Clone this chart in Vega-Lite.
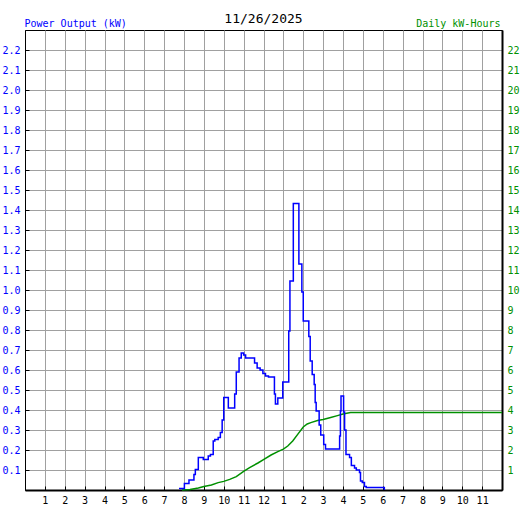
{
  "$schema": "https://vega.github.io/schema/vega-lite/v6.json",
  "width": 477,
  "height": 460,
  "autosize": "none",
  "padding": {"left": 25, "top": 30, "right": 25, "bottom": 20},
  "background": "white",
  "title": {"text": "11/26/2025", "font": "DejaVu Sans Mono", "fontSize": 13, "fontWeight": "normal", "color": "#000000", "anchor": "middle", "baseline": "alphabetic", "offset": 5, "dy": 23},
  "config": {
    "view": {"stroke": "#000000", "strokeWidth": 1},
    "axis": {"labelFont": "DejaVu Sans Mono", "labelFontSize": 10, "titleFont": "DejaVu Sans Mono", "titleFontSize": 10, "titleFontWeight": "normal", "gridColor": "#a0a0a0", "gridOpacity": 1, "gridWidth": 1, "tickColor": "#000000", "domainColor": "#000000"}
  },
  "datasets": {
    "energy": [
      {"hour": 7.9, "kwh": 0.0}, {"hour": 8.3, "kwh": 0.03}, {"hour": 8.72, "kwh": 0.1}, {"hour": 9.0, "kwh": 0.17},
      {"hour": 9.38, "kwh": 0.25}, {"hour": 9.72, "kwh": 0.37}, {"hour": 10.0, "kwh": 0.43}, {"hour": 10.3, "kwh": 0.53},
      {"hour": 10.63, "kwh": 0.67}, {"hour": 11.0, "kwh": 0.93}, {"hour": 11.3, "kwh": 1.12}, {"hour": 11.72, "kwh": 1.35},
      {"hour": 12.0, "kwh": 1.52}, {"hour": 12.38, "kwh": 1.75}, {"hour": 12.72, "kwh": 1.92}, {"hour": 13.0, "kwh": 2.04},
      {"hour": 13.22, "kwh": 2.2}, {"hour": 13.47, "kwh": 2.45}, {"hour": 13.72, "kwh": 2.78}, {"hour": 14.0, "kwh": 3.15},
      {"hour": 14.2, "kwh": 3.3}, {"hour": 14.38, "kwh": 3.37}, {"hour": 14.72, "kwh": 3.47}, {"hour": 15.0, "kwh": 3.53},
      {"hour": 15.38, "kwh": 3.63}, {"hour": 15.72, "kwh": 3.72}, {"hour": 16.0, "kwh": 3.8}, {"hour": 16.38, "kwh": 3.87},
      {"hour": 24.0, "kwh": 3.87}
    ],
    "power": [
      {"hour": 7.75, "kw": 0.007}, {"hour": 8.02, "kw": 0.033}, {"hour": 8.25, "kw": 0.05}, {"hour": 8.5, "kw": 0.078},
      {"hour": 8.57, "kw": 0.103}, {"hour": 8.72, "kw": 0.162}, {"hour": 8.97, "kw": 0.153}, {"hour": 9.22, "kw": 0.17},
      {"hour": 9.33, "kw": 0.178}, {"hour": 9.47, "kw": 0.245}, {"hour": 9.55, "kw": 0.253}, {"hour": 9.72, "kw": 0.262},
      {"hour": 9.83, "kw": 0.287}, {"hour": 9.92, "kw": 0.35}, {"hour": 10.0, "kw": 0.462}, {"hour": 10.23, "kw": 0.41},
      {"hour": 10.55, "kw": 0.48}, {"hour": 10.63, "kw": 0.59}, {"hour": 10.77, "kw": 0.66}, {"hour": 10.88, "kw": 0.685},
      {"hour": 11.0, "kw": 0.675}, {"hour": 11.1, "kw": 0.66}, {"hour": 11.55, "kw": 0.635}, {"hour": 11.68, "kw": 0.61},
      {"hour": 11.83, "kw": 0.6}, {"hour": 11.97, "kw": 0.583}, {"hour": 12.1, "kw": 0.57}, {"hour": 12.25, "kw": 0.565},
      {"hour": 12.55, "kw": 0.48}, {"hour": 12.6, "kw": 0.43}, {"hour": 12.72, "kw": 0.46}, {"hour": 12.97, "kw": 0.54},
      {"hour": 13.27, "kw": 0.795}, {"hour": 13.33, "kw": 1.045}, {"hour": 13.5, "kw": 1.433}, {"hour": 13.78, "kw": 1.13},
      {"hour": 13.93, "kw": 0.99}, {"hour": 14.0, "kw": 0.845}, {"hour": 14.28, "kw": 0.768}, {"hour": 14.35, "kw": 0.645},
      {"hour": 14.45, "kw": 0.578}, {"hour": 14.55, "kw": 0.528}, {"hour": 14.6, "kw": 0.437}, {"hour": 14.65, "kw": 0.395},
      {"hour": 14.8, "kw": 0.325}, {"hour": 14.88, "kw": 0.275}, {"hour": 15.03, "kw": 0.227}, {"hour": 15.12, "kw": 0.205},
      {"hour": 15.83, "kw": 0.27}, {"hour": 15.87, "kw": 0.395}, {"hour": 15.9, "kw": 0.47}, {"hour": 16.03, "kw": 0.39},
      {"hour": 16.08, "kw": 0.3}, {"hour": 16.15, "kw": 0.178}, {"hour": 16.33, "kw": 0.162}, {"hour": 16.42, "kw": 0.123},
      {"hour": 16.58, "kw": 0.11}, {"hour": 16.67, "kw": 0.1}, {"hour": 16.83, "kw": 0.087}, {"hour": 16.88, "kw": 0.045},
      {"hour": 16.97, "kw": 0.037}, {"hour": 17.08, "kw": 0.017}, {"hour": 17.17, "kw": 0.012}, {"hour": 18.08, "kw": 0.0}
    ]
  },
  "layer": [
    {
      "data": {"name": "energy"},
      "mark": {"type": "line", "color": "#009000", "strokeWidth": 1.5},
      "encoding": {
        "x": {"field": "hour", "type": "quantitative", "scale": {"domain": [0, 24], "nice": false, "zero": false},
          "axis": {"orient": "bottom", "values": [1,2,3,4,5,6,7,8,9,10,11,12,13,14,15,16,17,18,19,20,21,22,23], "labelExpr": "datum.value == 12 ? '12' : '' + (datum.value % 12)", "title": null, "grid": true, "tickSize": -4, "labelPadding": 9, "domainWidth": 2, "labelColor": "#000000"}},
        "y": {"field": "kwh", "type": "quantitative", "scale": {"domain": [0, 23], "nice": false},
          "axis": {"orient": "right", "values": [1,2,3,4,5,6,7,8,9,10,11,12,13,14,15,16,17,18,19,20,21,22], "format": "d", "grid": false, "ticks": false, "labelPadding": 5, "domainWidth": 2, "labelColor": "#009000", "title": "Daily kW-Hours", "titleColor": "#009000", "titleAngle": 0, "titleAlign": "right", "titleBaseline": "alphabetic", "titleX": -2, "titleY": -4}}
      }
    },
    {
      "data": {"name": "power"},
      "mark": {"type": "line", "interpolate": "step-after", "color": "#0000ff", "strokeWidth": 1.5},
      "encoding": {
        "x": {"field": "hour", "type": "quantitative", "scale": {"domain": [0, 24], "nice": false, "zero": false},
          "axis": {"orient": "bottom", "values": [1,2,3,4,5,6,7,8,9,10,11,12,13,14,15,16,17,18,19,20,21,22,23], "labelExpr": "datum.value == 12 ? '12' : '' + (datum.value % 12)", "title": null, "grid": true, "tickSize": -4, "labelPadding": 9, "domainWidth": 2, "labelColor": "#000000"}},
        "y": {"field": "kw", "type": "quantitative", "scale": {"domain": [0, 2.3], "nice": false},
          "axis": {"orient": "left", "values": [0.1,0.2,0.3,0.4,0.5,0.6,0.7,0.8,0.9,1.0,1.1,1.2,1.3,1.4,1.5,1.6,1.7,1.8,1.9,2.0,2.1,2.2], "format": ".1f", "grid": true, "tickSize": -4, "labelPadding": 9, "domainWidth": 1, "labelColor": "#0000ff", "title": "Power Output (kW)", "titleColor": "#0000ff", "titleAngle": 0, "titleAlign": "left", "titleBaseline": "alphabetic", "titleX": -1, "titleY": -4}}
      }
    }
  ],
  "resolve": {"scale": {"y": "independent"}}
}
